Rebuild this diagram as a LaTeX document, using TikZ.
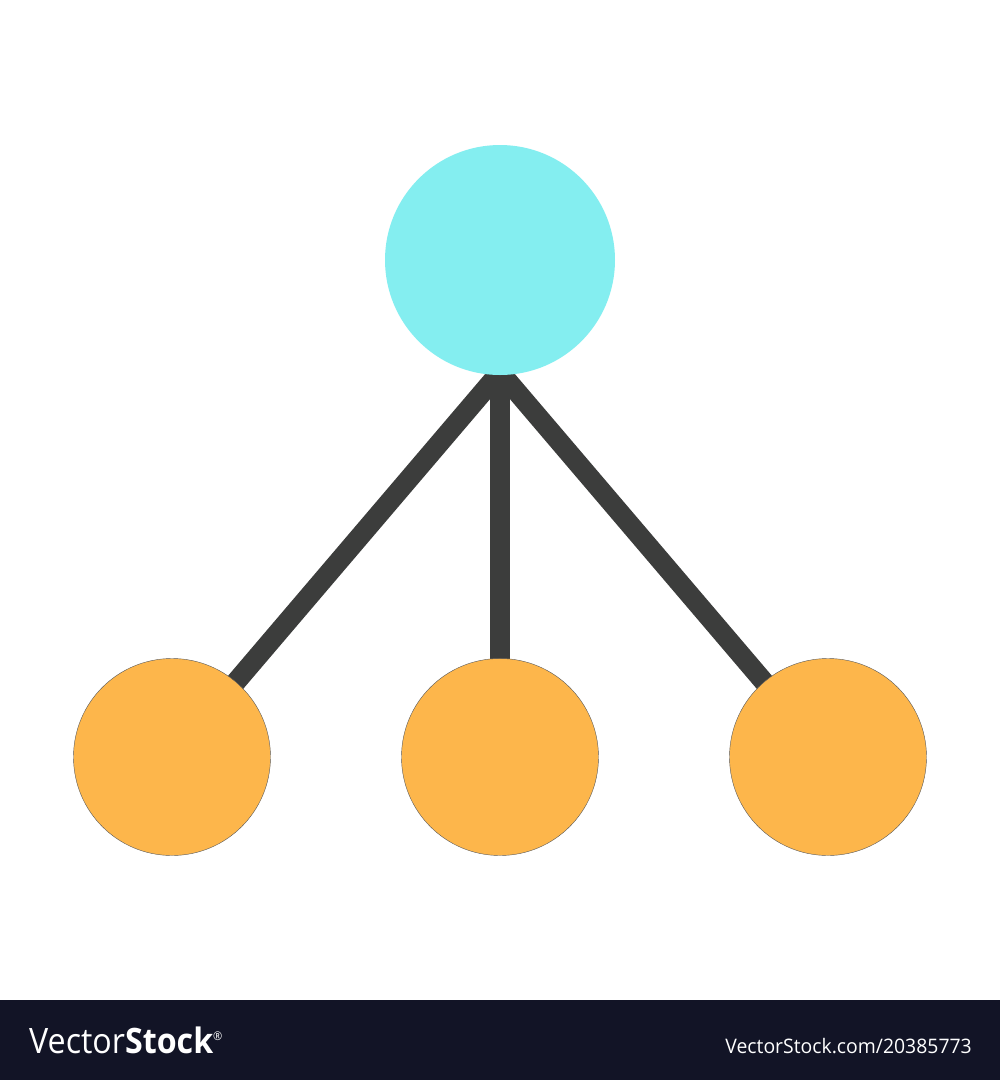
\documentclass[tikz,border=0pt]{standalone}
\usepackage{fontspec}
\newfontfamily\vsfont{Open Sans}
\definecolor{topc}{HTML}{84EEF0}
\definecolor{leafc}{HTML}{FDB64B}
\definecolor{linkc}{HTML}{3C3D3C}
\definecolor{barc}{HTML}{121426}
\tikzset{
  link/.style={draw=linkc, line width=20pt},
  topnode/.style={circle, fill=topc, minimum size=230pt, inner sep=0pt},
  leaf/.style={circle, fill=leafc, draw=gray!70!black, line width=0.4pt, minimum size=197pt, inner sep=0pt},
  bartext/.style={text=white, inner sep=0pt, font=\vsfont}
}
\begin{document}
\begin{tikzpicture}[x=1pt,y=-1pt]
\useasboundingbox (0,0) rectangle (1000,1080);
\fill[white] (0,0) rectangle (1000,1000);
\fill[barc] (0,1000) rectangle (1000,1080);
\coordinate (hub) at (500,372);
\coordinate (cl) at (172,757);
\coordinate (cm) at (500,757);
\coordinate (cr) at (828,757);
\draw[link] (hub) -- (cl);
\draw[link] (hub) -- (cm);
\draw[link] (hub) -- (cr);
\node[topnode] (top) at (500,260) {};
\node[leaf] (l) at (cl) {};
\node[leaf] (m) at (cm) {};
\node[leaf] (r) at (cr) {};
\node[bartext, anchor=base west, font=\vsfont\fontsize{35}{35}\selectfont, xscale=0.92] (logo) at (29,1053) {Vector\textbf{Stock}\raisebox{13pt}{\fontsize{12}{12}\selectfont ®}};
\node[bartext, anchor=base east, font=\vsfont\fontsize{20}{20}\selectfont, xscale=0.97] (url) at (972,1053) {VectorStock.com/20385773};
\end{tikzpicture}
\end{document}
